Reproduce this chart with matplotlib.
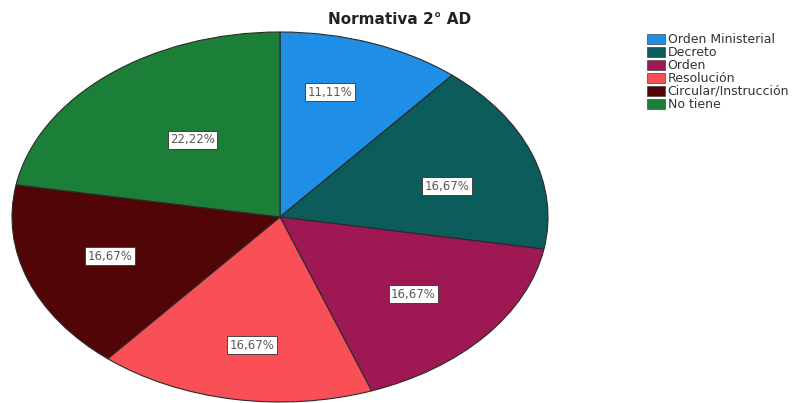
import matplotlib
matplotlib.use("Agg")
import matplotlib.pyplot as plt
import numpy as np

categories = ["Orden Ministerial", "Decreto", "Orden", "Resolución", "Circular/Instrucción", "No tiene"]
values = [11.11, 16.67, 16.67, 16.67, 16.67, 22.22]
labels = ["11,11%", "16,67%", "16,67%", "16,67%", "16,67%", "22,22%"]
colors = ["#1f8ee6", "#0b5c5a", "#9e1853", "#f94f57", "#520507", "#1c7f38"]
label_r = [0.70, 0.645, 0.65, 0.70, 0.67, 0.53]
label_da = [4.5, -5.0, 0.0, 1.5, -1.5, -2.0]

fig = plt.figure(figsize=(8.0, 4.03), dpi=100)
fig.patch.set_facecolor("white")
ax = fig.add_axes([12/800, (403-402)/403, 536/800, 370/403])
wedges, _ = ax.pie(values, colors=colors, startangle=90, counterclock=False,
                   radius=1.0, wedgeprops=dict(edgecolor="#2a2a2a", linewidth=0.8))
ax.set_aspect("auto")
ax.set_xlim(-1, 1)
ax.set_ylim(-1, 1)
ax.axis("off")

for w, lab, r, da in zip(wedges, labels, label_r, label_da):
    ang = np.deg2rad((w.theta1 + w.theta2) / 2 + da)
    ax.text(r*np.cos(ang), r*np.sin(ang), lab, ha="center", va="center",
            fontsize=8.5, color="#5a5a5a", family="DejaVu Sans",
            bbox=dict(boxstyle="square,pad=0.2", facecolor="white", edgecolor="#333333", linewidth=0.6))

fig.text(400/800, 1 - 20/403, "Normativa 2° AD", ha="center", va="center",
         fontsize=11, fontweight="bold", color="#222222")

handles = [plt.Rectangle((0, 0), 1, 1, facecolor=c, edgecolor="#444444", linewidth=0.5) for c in colors]
fig.legend(handles, categories, loc="upper left", bbox_to_anchor=(647/800, 1 - 33/403),
           frameon=False, fontsize=9, handlelength=1.45, handleheight=0.9,
           handletextpad=0.2, labelspacing=0.0, borderpad=0, borderaxespad=0,
           labelcolor="#333333")

fig.savefig("out.png", dpi=100, facecolor="white")
